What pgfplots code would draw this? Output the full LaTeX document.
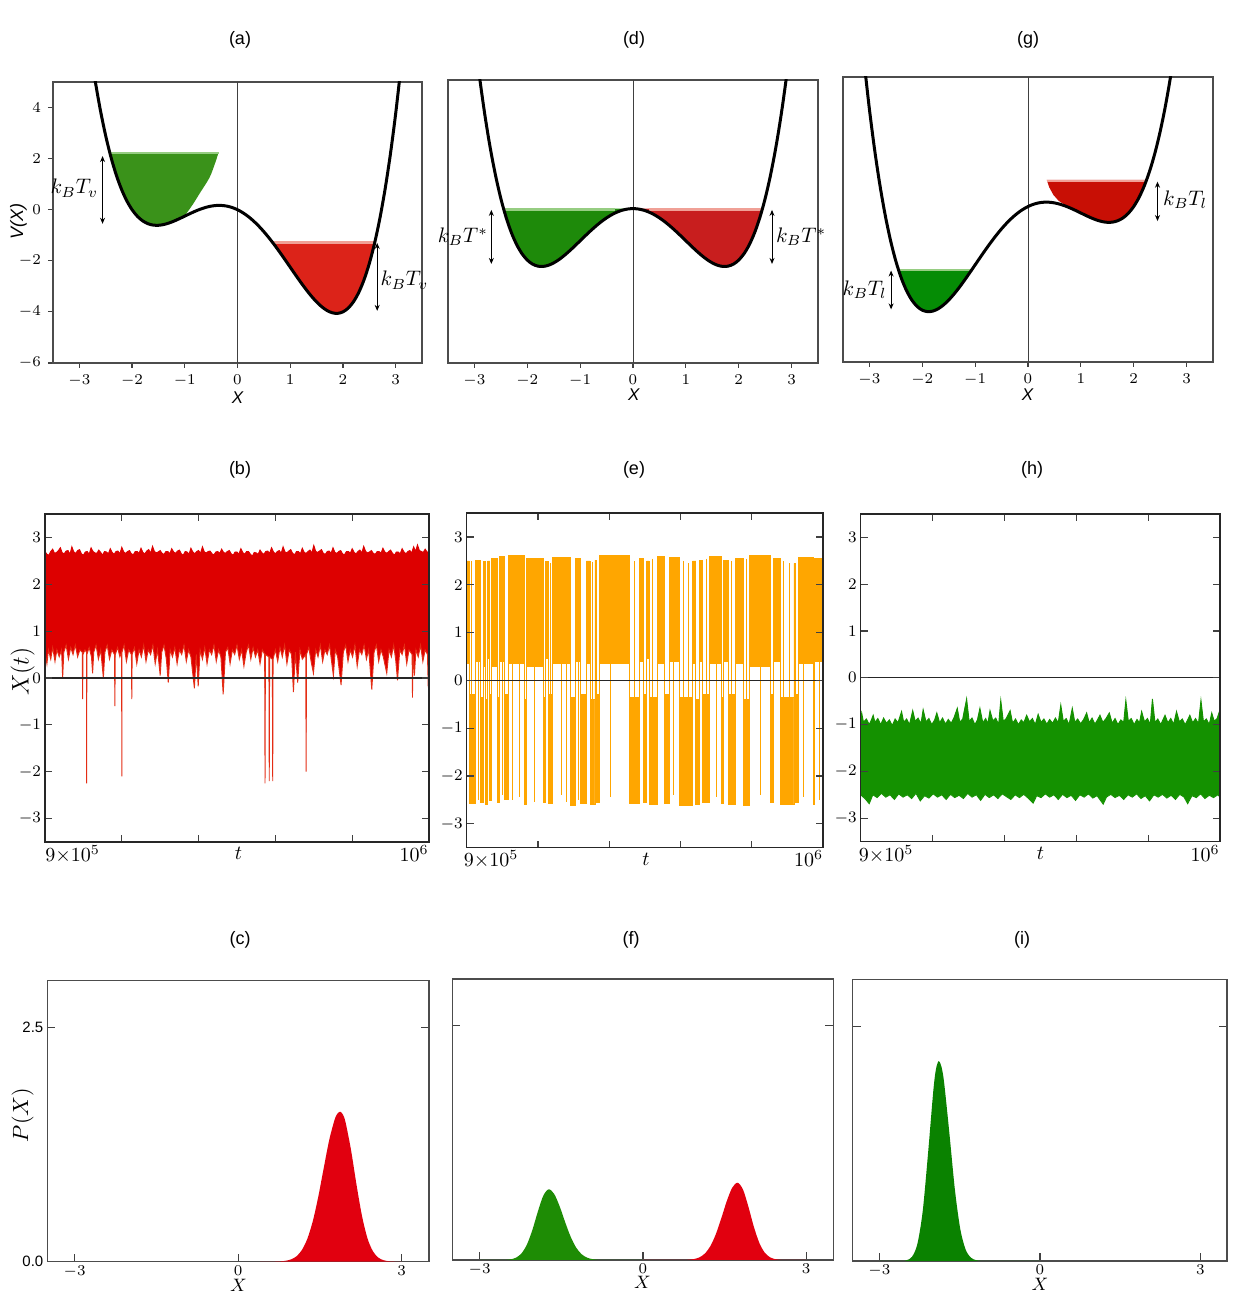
\documentclass[border=0pt]{standalone}
\usepackage{fix-cm}
\usepackage[no-math]{fontspec}
\setmainfont{Liberation Sans}
\usepackage{pgfplots}
\pgfplotsset{compat=1.18}
\usepackage{pgfplotstable}
\usetikzlibrary{arrows.meta}

\definecolor{gA}{RGB}{58,146,26}
\definecolor{gAl}{RGB}{150,205,130}
\definecolor{rA}{RGB}{220,35,25}
\definecolor{rAl}{RGB}{240,160,150}
\definecolor{gD}{RGB}{30,138,10}
\definecolor{rD}{RGB}{200,30,30}
\definecolor{gG}{RGB}{5,140,5}
\definecolor{rG}{RGB}{200,15,5}
\definecolor{bred}{RGB}{221,0,0}
\definecolor{bredl}{RGB}{228,45,20}
\definecolor{eor}{RGB}{255,166,0}
\definecolor{hgr}{RGB}{20,145,0}
\definecolor{pred}{RGB}{225,0,15}
\definecolor{pgrF}{RGB}{30,140,5}
\definecolor{pgrI}{RGB}{10,130,0}

\tikzset{
  arr/.style={{Stealth[length=3pt,width=2.5pt]}-{Stealth[length=3pt,width=2.5pt]}, line width=0.5pt, black},
  kb/.style={font=\fontsize{10.5}{11}\selectfont, inner sep=1pt},
}

\pgfplotsset{
  base/.style={scale only axis,
    axis line style={black!70, line width=0.8pt},
    tick style={black!75, line width=0.6pt}},
  toprow/.style={base, clip mode=individual, xmin=-3.5, xmax=3.5, ymin=-6, ymax=5,
    xtick={-3,...,3}, tick align=outside, xtick pos=left, ytick pos=left,
    major tick length=2.5pt,
    tick label style={font=\fontsize{7.5}{8}\selectfont}},
  midrow/.style={base, axis on top, xmin=0, xmax=100, ymin=-3.5, ymax=3.5,
    xtick={0,20,...,100}, xticklabels={}, ytick={-3,...,3},
    tick align=inside, xtick pos=both, ytick pos=both, yticklabel pos=left,
    major tick length=3.5pt,
    axis line style={black!85, line width=0.8pt},
    tick label style={font=\fontsize{8}{9}\selectfont},
    yticklabel style={xshift=1.5pt}},
  botrow/.style={base, xmin=-3.5, xmax=3.5, ymin=0, ymax=3,
    xtick={-3,0,3}, ytick={0,2.5}, tick align=inside,
    xtick pos=left, ytick pos=both, yticklabel pos=left,
    major tick length=4pt,
    tick label style={font=\fontsize{7.5}{8}\selectfont},
    xticklabel style={yshift=1.5pt}, yticklabel style={xshift=1.5pt}},
  curve/.style={black, line width=1.5pt, smooth},
  zline/.style={black!75, line width=0.5pt},
  edge/.style={line width=0.45pt, restrict y to domain=-3.2:3.2},
}

% potential V(X): Vd symmetric, Va tilted (a), Vg tilted (g)
\pgfplotstableread{
x Vd Va Vg
-3.1 8.673 11.773 5.573
-3.0 6.75 9.75 3.75
-2.9 5.067 7.967 2.167
-2.8 3.6064 6.4064 0.8064
-2.7 2.351 5.051 -0.349
-2.6 1.2844 3.8844 -1.3156
-2.5 0.3906 2.8906 -2.1094
-2.4 -0.3456 2.0544 -2.7456
-2.3 -0.939 1.361 -3.239
-2.2 -1.4036 0.7964 -3.6036
-2.1 -1.753 0.347 -3.853
-2.0 -2.0 0 -4.0
-1.9 -2.157 -0.257 -4.057
-1.8 -2.2356 -0.4356 -4.0356
-1.7 -2.247 -0.547 -3.947
-1.6 -2.2016 -0.6016 -3.8016
-1.5 -2.1094 -0.6094 -3.6094
-1.4 -1.9796 -0.5796 -3.3796
-1.3 -1.821 -0.521 -3.121
-1.2 -1.6416 -0.4416 -2.8416
-1.1 -1.449 -0.349 -2.549
-1.0 -1.25 -0.25 -2.25
-0.9 -1.051 -0.151 -1.951
-0.8 -0.8576 -0.0576 -1.6576
-0.7 -0.675 0.025 -1.375
-0.6 -0.5076 0.0924 -1.1076
-0.5 -0.3594 0.1406 -0.8594
-0.4 -0.2336 0.1664 -0.6336
-0.3 -0.133 0.167 -0.433
-0.2 -0.0596 0.1404 -0.2596
-0.1 -0.015 0.085 -0.115
0.0 0 0 0
0.1 -0.015 -0.115 0.085
0.2 -0.0596 -0.2596 0.1404
0.3 -0.133 -0.433 0.167
0.4 -0.2336 -0.6336 0.1664
0.5 -0.3594 -0.8594 0.1406
0.6 -0.5076 -1.1076 0.0924
0.7 -0.675 -1.375 0.025
0.8 -0.8576 -1.6576 -0.0576
0.9 -1.051 -1.951 -0.151
1.0 -1.25 -2.25 -0.25
1.1 -1.449 -2.549 -0.349
1.2 -1.6416 -2.8416 -0.4416
1.3 -1.821 -3.121 -0.521
1.4 -1.9796 -3.3796 -0.5796
1.5 -2.1094 -3.6094 -0.6094
1.6 -2.2016 -3.8016 -0.6016
1.7 -2.247 -3.947 -0.547
1.8 -2.2356 -4.0356 -0.4356
1.9 -2.157 -4.057 -0.257
2.0 -2.0 -4.0 0
2.1 -1.753 -3.853 0.347
2.2 -1.4036 -3.6036 0.7964
2.3 -0.939 -3.239 1.361
2.4 -0.3456 -2.7456 2.0544
2.5 0.3906 -2.1094 2.8906
2.6 1.2844 -1.3156 3.8844
2.7 2.351 -0.349 5.051
2.8 3.6064 0.8064 6.4064
2.9 5.067 2.167 7.967
3.0 6.75 3.75 9.75
3.1 8.673 5.573 11.773
}\pot

% (b) band edges, u = (t - 9e5)/1e3 ; first/last rows close the area at ymin
\pgfplotstableread[row sep=\\]{u y\\0 -3.5\\0 2.7\\0.5 2.64\\1 2.62\\1.5 2.7\\2 2.75\\2.5 2.66\\3 2.68\\3.5 2.72\\4 2.78\\4.5 2.67\\5 2.65\\5.5 2.71\\6 2.72\\6.5 2.64\\7 2.8\\7.5 2.69\\8 2.66\\8.5 2.72\\9 2.74\\9.5 2.65\\10 2.62\\10.5 2.69\\11 2.7\\11.5 2.64\\12 2.78\\12.5 2.7\\13 2.67\\13.5 2.66\\14 2.73\\14.5 2.68\\15 2.62\\15.5 2.7\\16 2.69\\16.5 2.65\\17 2.76\\17.5 2.68\\18 2.64\\18.5 2.7\\19 2.71\\19.5 2.65\\20 2.79\\20.5 2.69\\21 2.66\\21.5 2.7\\22 2.72\\22.5 2.65\\23 2.63\\23.5 2.7\\24 2.7\\24.5 2.66\\25 2.77\\25.5 2.68\\26 2.65\\26.5 2.71\\27 2.74\\27.5 2.66\\28 2.81\\28.5 2.7\\29 2.67\\29.5 2.69\\30 2.72\\30.5 2.66\\31 2.64\\31.5 2.7\\32 2.7\\32.5 2.65\\33 2.76\\33.5 2.69\\34 2.66\\34.5 2.71\\35 2.73\\35.5 2.65\\36 2.62\\36.5 2.7\\37 2.69\\37.5 2.64\\38 2.77\\38.5 2.69\\39 2.65\\39.5 2.7\\40 2.72\\40.5 2.66\\41 2.8\\41.5 2.69\\42 2.67\\42.5 2.7\\43 2.71\\43.5 2.65\\44 2.63\\44.5 2.69\\45 2.7\\45.5 2.66\\46 2.75\\46.5 2.68\\47 2.66\\47.5 2.7\\48 2.72\\48.5 2.65\\49 2.62\\49.5 2.69\\50 2.69\\50.5 2.64\\51 2.76\\51.5 2.68\\52 2.64\\52.5 2.7\\53 2.7\\53.5 2.64\\54 2.6\\54.5 2.68\\55 2.67\\55.5 2.64\\56 2.73\\56.5 2.67\\57 2.64\\57.5 2.7\\58 2.71\\58.5 2.66\\59 2.78\\59.5 2.69\\60 2.65\\60.5 2.7\\61 2.72\\61.5 2.66\\62 2.8\\62.5 2.69\\63 2.67\\63.5 2.71\\64 2.74\\64.5 2.66\\65 2.63\\65.5 2.7\\66 2.7\\66.5 2.65\\67 2.77\\67.5 2.68\\68 2.66\\68.5 2.7\\69 2.73\\69.5 2.67\\70 2.83\\70.5 2.7\\71 2.68\\71.5 2.71\\72 2.74\\72.5 2.66\\73 2.64\\73.5 2.7\\74 2.71\\74.5 2.66\\75 2.78\\75.5 2.68\\76 2.66\\76.5 2.7\\77 2.72\\77.5 2.65\\78 2.63\\78.5 2.7\\79 2.7\\79.5 2.66\\80 2.76\\80.5 2.68\\81 2.65\\81.5 2.7\\82 2.73\\82.5 2.67\\83 2.81\\83.5 2.7\\84 2.67\\84.5 2.69\\85 2.72\\85.5 2.66\\86 2.64\\86.5 2.7\\87 2.7\\87.5 2.66\\88 2.77\\88.5 2.69\\89 2.66\\89.5 2.7\\90 2.73\\90.5 2.66\\91 2.62\\91.5 2.69\\92 2.69\\92.5 2.65\\93 2.76\\93.5 2.69\\94 2.65\\94.5 2.7\\95 2.72\\95.5 2.67\\96 2.8\\96.5 2.7\\97 2.84\\97.5 2.72\\98 2.7\\98.5 2.68\\99 2.75\\99.5 2.69\\100 2.68\\100 -3.5\\}\btop

\pgfplotstableread[row sep=\\]{u y\\0 -3.5\\0 0.55\\0.5 0.3\\0.9 0.6\\1.5 0.4\\2.0 0.65\\2.6 0.35\\3.1 0.6\\3.7 0.45\\4.3 0.6\\4.6 0.0\\4.9 0.55\\5.5 0.7\\6.1 0.4\\6.7 0.65\\7.3 0.5\\7.9 0.7\\8.5 0.45\\9.1 0.6\\9.7 0.55\\9.8 -0.45\\9.9 0.5\\10.4 0.6\\10.8 0.55\\10.85 -2.25\\10.9 0.5\\11.5 0.65\\12.1 0.45\\12.4 0.1\\12.7 0.55\\13.3 0.7\\13.9 0.4\\14.5 0.6\\15.2 0.0\\15.6 0.55\\16.2 0.7\\16.8 0.4\\17.4 0.6\\18.1 0.5\\18.2 -0.6\\18.3 0.5\\18.9 0.65\\19.5 0.45\\19.95 0.55\\20.0 -2.1\\20.05 0.55\\20.6 0.7\\21.2 0.35\\21.8 0.6\\22.5 0.5\\22.6 -0.45\\22.7 0.5\\23.3 0.65\\23.9 0.3\\24.5 0.6\\25.1 0.45\\25.7 0.7\\26.3 0.35\\26.9 0.6\\27.5 0.5\\28.1 0.7\\28.7 0.3\\29.3 0.6\\30.0 0.05\\30.4 0.55\\31.0 0.7\\31.6 0.4\\32.1 -0.1\\32.6 0.6\\33.2 0.45\\33.8 0.65\\34.4 0.3\\35.0 0.6\\35.6 0.5\\36.2 0.7\\36.8 0.35\\37.4 0.6\\38.0 0.45\\38.9 -0.22\\39.4 0.5\\39.9 -0.18\\40.4 0.6\\41.0 0.4\\41.6 0.65\\42.2 0.3\\42.8 0.6\\43.4 0.5\\44.0 0.7\\44.6 0.35\\45.2 0.6\\45.8 0.45\\46.4 -0.35\\47.0 0.55\\47.6 0.65\\48.2 0.3\\48.8 0.6\\49.4 0.5\\50.0 0.7\\50.6 0.4\\51.2 0.6\\51.8 0.25\\52.4 0.55\\53.0 0.7\\53.6 0.4\\54.2 0.65\\54.8 0.45\\55.4 0.6\\56.0 0.3\\56.6 0.6\\57.2 0.5\\57.3 -2.25\\57.4 0.5\\58.3 0.45\\58.4 -2.2\\58.5 0.45\\59.2 0.4\\59.3 -2.2\\59.4 0.4\\60.0 0.6\\60.6 0.35\\61.2 0.65\\61.8 0.45\\62.4 0.7\\63.0 0.3\\63.6 0.6\\64.2 0.5\\64.7 -0.3\\65.2 0.55\\65.8 -0.1\\66.4 0.6\\67.0 0.4\\67.9 0.5\\68.0 -2.0\\68.1 0.5\\68.7 0.65\\69.3 0.35\\69.9 0.1\\70.5 0.6\\71.1 0.45\\71.7 0.7\\72.3 0.35\\72.9 0.6\\73.5 0.5\\74.1 0.7\\74.7 0.3\\75.1 0.05\\75.6 0.6\\76.2 0.45\\77.1 -0.15\\77.7 0.55\\78.3 0.7\\78.9 0.35\\79.5 0.6\\80.1 0.45\\80.7 0.7\\81.3 0.25\\81.9 0.6\\82.5 0.5\\83.1 0.7\\83.7 0.4\\84.3 0.6\\85.1 -0.25\\85.7 0.55\\86.3 0.7\\86.9 0.35\\87.5 0.6\\88.1 0.45\\89.0 0.1\\89.6 0.6\\90.2 0.45\\90.8 0.7\\91.3 0.4\\91.8 -0.05\\92.4 0.6\\93.0 0.5\\93.6 0.7\\94.2 0.3\\94.8 0.6\\95.6 0.5\\95.7 -0.42\\95.8 0.5\\96.2 0.05\\96.6 0.6\\97.2 0.45\\97.8 0.7\\98.4 0.35\\99.0 0.6\\99.6 0.5\\99.8 -0.2\\100 0.5\\100 -3.5\\}\bbot

% (e) residence blocks: start u, upper and lower bound of the band
\pgfplotstableread{
u hi lo
0 -3.5 -3.5
0 2.5 0.35
0.8 -0.3 -2.58
2.6 2.52 0.4
3.9 -0.35 -2.55
4.7 2.48 0.3
5.4 -0.4 -2.6
5.9 2.5 0.45
6.5 -0.3 -2.52
7.0 2.55 0.3
8.6 -0.35 -2.56
9.3 2.6 0.4
10.7 -0.3 -2.5
11.7 2.62 0.35
16.1 -0.4 -2.6
16.8 2.55 0.3
21.5 -0.35 -2.55
22.0 2.48 0.45
22.9 -0.3 -2.58
24.1 2.58 0.35
29.2 -0.35 -2.62
30.6 2.55 0.4
32.0 -0.3 -2.57
33.6 2.5 0.35
34.6 -0.4 -2.6
36.0 2.52 0.4
36.4 -0.3 -2.55
37.2 2.62 0.35
45.8 -0.35 -2.58
48.6 2.55 0.4
49.6 -0.3 -2.55
50.5 2.5 0.45
51.2 -0.35 -2.6
53.4 2.6 0.35
55.6 -0.3 -2.58
56.8 2.58 0.4
59.6 -0.35 -2.62
63.4 2.5 0.35
64.3 -0.4 -2.6
65.2 2.52 0.4
66.2 -0.3 -2.55
68.2 2.6 0.35
71.5 -0.35 -2.58
72.1 2.52 0.4
73.3 -0.3 -2.6
75.5 2.55 0.35
77.7 -0.4 -2.62
79.4 2.62 0.3
85.2 -0.3 -2.55
86.0 2.55 0.4
88.0 -0.35 -2.6
91.8 2.45 0.45
92.1 -0.3 -2.55
93.0 2.58 0.35
97.2 -0.35 -2.6
97.6 2.55 0.4
100 2.55 0.4
100 -3.5 -3.5
}\eblk

% (e) brief excursions to the other well (full-height lines)
\pgfplotstableread[row sep=\\]{u y\\1.5 2.5\\1.5 -2.45\\1.5 nan\\3.3 2.5\\3.3 -2.5\\3.3 nan\\10.2 2.55\\10.2 -2.4\\10.2 nan\\13.0 2.6\\13.0 -2.5\\13.0 nan\\14.9 2.55\\14.9 -2.45\\14.9 nan\\19.0 2.5\\19.0 -2.55\\19.0 nan\\23.5 2.45\\23.5 -2.5\\23.5 nan\\26.7 2.55\\26.7 -2.4\\26.7 nan\\28.1 2.5\\28.1 -2.55\\28.1 nan\\31.3 2.5\\31.3 -2.5\\31.3 nan\\35.2 2.48\\35.2 -2.6\\35.2 nan\\40.3 2.6\\40.3 -2.45\\40.3 nan\\47.0 2.5\\47.0 -2.55\\47.0 nan\\52.2 2.55\\52.2 -2.5\\52.2 nan\\57.9 2.55\\57.9 -2.4\\57.9 nan\\60.8 2.5\\60.8 -2.6\\60.8 nan\\62.2 2.45\\62.2 -2.55\\62.2 nan\\67.2 2.55\\67.2 -2.5\\67.2 nan\\70.1 2.6\\70.1 -2.45\\70.1 nan\\74.3 2.5\\74.3 -2.55\\74.3 nan\\78.5 2.55\\78.5 -2.6\\78.5 nan\\82.3 2.6\\82.3 -2.4\\82.3 nan\\89.0 2.5\\89.0 -2.55\\89.0 nan\\90.5 2.45\\90.5 -2.5\\90.5 nan\\94.6 2.55\\94.6 -2.45\\94.6 nan\\98.9 2.5\\98.9 -2.5\\}\eexc

% (h) band edges
\pgfplotstableread[row sep=\\]{u y\\0 -3.5\\0 -0.9\\0.3 -0.75\\0.8 -0.95\\1.6 -0.88\\2.4 -1.0\\3.0 -0.9\\3.5 -0.8\\4.0 -0.95\\4.8 -0.87\\5.6 -1.0\\6.4 -0.86\\7.2 -0.97\\8.0 -0.9\\8.8 -1.02\\9.6 -0.88\\10.4 -0.96\\11.4 -0.72\\12.0 -0.95\\12.8 -0.88\\13.6 -1.0\\14.5 -0.7\\15.2 -0.93\\16.0 -0.86\\16.8 -0.98\\17.4 -0.68\\18.2 -0.94\\19.0 -0.87\\19.8 -1.0\\20.6 -0.9\\21.2 -0.75\\22.0 -0.96\\22.8 -0.86\\23.6 -0.99\\24.4 -0.89\\25.2 -0.97\\26.0 -0.85\\26.9 -0.65\\27.6 -0.95\\28.4 -0.88\\29.5 -0.45\\30.2 -0.93\\31.0 -0.86\\31.8 -1.0\\32.5 -0.9\\33.2 -0.65\\34.0 -0.96\\34.8 -0.87\\35.4 -0.98\\36.0 -0.7\\36.8 -0.92\\37.6 -0.86\\38.4 -1.0\\39.0 -0.48\\39.7 -0.93\\40.5 -0.87\\41.6 -0.7\\42.3 -0.97\\43.1 -0.88\\43.9 -1.0\\44.7 -0.9\\45.4 -0.96\\46.2 -0.8\\47.0 -0.94\\47.8 -0.87\\48.6 -1.0\\49.4 -0.78\\50.2 -0.95\\51.0 -0.88\\51.8 -0.99\\52.6 -0.89\\53.4 -0.97\\54.2 -0.86\\55.0 -0.96\\55.7 -0.58\\56.4 -0.93\\57.2 -0.87\\58.0 -1.0\\58.9 -0.65\\59.6 -0.95\\60.4 -0.88\\61.2 -0.98\\62.0 -0.9\\62.9 -0.75\\63.6 -0.96\\64.4 -0.86\\65.2 -0.99\\65.9 -0.9\\66.6 -0.8\\67.4 -0.95\\68.2 -0.88\\69.2 -0.75\\70.0 -0.97\\70.8 -0.87\\71.6 -1.0\\72.4 -0.9\\73.2 -0.95\\73.8 -0.48\\74.5 -0.93\\75.3 -0.87\\76.1 -1.0\\76.9 -0.89\\77.6 -0.96\\78.2 -0.72\\79.0 -0.94\\79.8 -0.87\\80.6 -0.99\\81.2 -0.45\\81.9 -0.95\\82.7 -0.88\\83.5 -1.0\\84.1 -0.9\\84.7 -0.8\\85.5 -0.96\\86.3 -0.87\\87.1 -0.99\\87.9 -0.72\\88.7 -0.94\\89.5 -0.88\\90.3 -1.0\\91.0 -0.9\\91.6 -0.8\\92.4 -0.96\\93.2 -0.87\\94.0 -0.98\\94.7 -0.48\\95.4 -0.94\\96.2 -0.88\\97.0 -1.0\\97.7 -0.75\\98.4 -0.93\\99.2 -0.87\\100 -0.68\\100 -3.5\\}\htop

\pgfplotstableread[row sep=\\]{u y\\0 -3.5\\0 -2.5\\1.2 -2.58\\2.4 -2.69\\3.4 -2.5\\4.6 -2.56\\5.8 -2.47\\7.0 -2.55\\8.2 -2.5\\9.4 -2.6\\10.6 -2.48\\11.8 -2.55\\13.0 -2.5\\14.2 -2.58\\15.4 -2.47\\16.6 -2.63\\17.8 -2.52\\19.0 -2.57\\20.2 -2.48\\21.4 -2.55\\22.6 -2.5\\23.8 -2.6\\25.0 -2.49\\26.2 -2.56\\27.4 -2.51\\28.6 -2.58\\29.8 -2.47\\31.0 -2.55\\32.2 -2.5\\33.4 -2.62\\34.6 -2.49\\35.8 -2.56\\37.0 -2.5\\38.2 -2.58\\39.4 -2.48\\40.6 -2.54\\41.8 -2.6\\43.0 -2.5\\44.2 -2.56\\45.4 -2.49\\46.6 -2.57\\48.0 -2.68\\49.0 -2.52\\50.2 -2.56\\51.4 -2.48\\52.6 -2.55\\53.8 -2.5\\55.0 -2.6\\56.2 -2.49\\57.4 -2.56\\58.6 -2.51\\59.8 -2.62\\61.0 -2.5\\62.2 -2.55\\63.4 -2.48\\64.6 -2.57\\65.8 -2.52\\67.5 -2.7\\68.4 -2.55\\69.6 -2.49\\70.8 -2.56\\72.0 -2.51\\73.2 -2.6\\74.4 -2.5\\75.6 -2.55\\76.8 -2.48\\78.0 -2.58\\79.2 -2.52\\80.4 -2.63\\81.6 -2.5\\82.8 -2.55\\84.0 -2.49\\85.2 -2.57\\86.4 -2.51\\87.6 -2.6\\88.8 -2.49\\90.0 -2.55\\91.0 -2.69\\92.2 -2.52\\93.4 -2.56\\94.6 -2.48\\95.8 -2.58\\97.0 -2.51\\98.2 -2.56\\99.4 -2.5\\100 -2.55\\100 -3.5\\}\hbot

\begin{document}
\begin{tikzpicture}
\path[use as bounding box] (0,0) rectangle (618pt,651pt);

% ---------------- (a)
\begin{axis}[toprow, at={(26.5pt,469.5pt)}, anchor=south west,
  width=184.5pt, height=140.5pt, ytick={-6,-4,...,4}]
\addplot[fill=gA, draw=none, smooth] coordinates {(-2.42,2.24)(-2.4,2.0544)(-2.3,1.361)(-2.2,0.7964)(-2.1,0.347)(-2.0,0)(-1.9,-0.257)(-1.8,-0.4356)(-1.7,-0.547)(-1.6,-0.6016)(-1.5,-0.6094)(-1.4,-0.5796)(-1.3,-0.521)(-1.2,-0.4416)(-1.1,-0.349)(-1.0,-0.22)(-0.85,0.2)(-0.72,0.63)(-0.53,1.26)(-0.42,1.85)(-0.36,2.24)};
\addplot[fill=rA, draw=none] coordinates {(0.657,-1.26)(0.7,-1.375)(0.8,-1.6576)(0.9,-1.951)(1.0,-2.25)(1.1,-2.549)(1.2,-2.8416)(1.3,-3.121)(1.4,-3.3796)(1.5,-3.6094)(1.6,-3.8016)(1.7,-3.947)(1.8,-4.0356)(1.9,-4.057)(2.0,-4.0)(2.1,-3.853)(2.2,-3.6036)(2.3,-3.239)(2.4,-2.7456)(2.5,-2.1094)(2.6,-1.3156)(2.606,-1.26)};
\addplot[gAl, line width=1.2pt] coordinates {(-2.42,2.21)(-0.36,2.21)};
\addplot[rAl, line width=1.2pt] coordinates {(0.66,-1.29)(2.60,-1.29)};
\addplot[zline] coordinates {(0,-6)(0,5)};
\addplot[curve] table[x=x, y=Va] {\pot};
\draw[arr] (axis cs:-2.56,2.1) -- (axis cs:-2.56,-0.55);
\draw[arr] (axis cs:2.65,-1.3) -- (axis cs:2.65,-3.96);
\node[kb, anchor=east] at (axis cs:-2.6,0.84) {$k_BT_v$};
\node[kb, anchor=west] at (axis cs:2.67,-2.76) {$k_BT_v$};
\end{axis}

% ---------------- (d)
\begin{axis}[toprow, at={(224pt,469.5pt)}, anchor=south west,
  width=185pt, height=141.5pt, ytick=\empty]
\addplot[fill=gD, draw=none] coordinates {(-2.449,0)(-2.4,-0.3456)(-2.3,-0.939)(-2.2,-1.4036)(-2.1,-1.753)(-2.0,-2.0)(-1.9,-2.157)(-1.8,-2.2356)(-1.7,-2.247)(-1.6,-2.2016)(-1.5,-2.1094)(-1.4,-1.9796)(-1.3,-1.821)(-1.2,-1.6416)(-1.1,-1.449)(-1.0,-1.25)(-0.9,-1.051)(-0.8,-0.8576)(-0.7,-0.675)(-0.6,-0.5076)(-0.5,-0.3594)(-0.4,-0.2336)(-0.3,-0.133)(-0.2,-0.0596)(-0.1,-0.015)(0,0)};
\addplot[fill=rD, draw=none] coordinates {(0,0)(0.1,-0.015)(0.2,-0.0596)(0.3,-0.133)(0.4,-0.2336)(0.5,-0.3594)(0.6,-0.5076)(0.7,-0.675)(0.8,-0.8576)(0.9,-1.051)(1.0,-1.25)(1.1,-1.449)(1.2,-1.6416)(1.3,-1.821)(1.4,-1.9796)(1.5,-2.1094)(1.6,-2.2016)(1.7,-2.247)(1.8,-2.2356)(1.9,-2.157)(2.0,-2.0)(2.1,-1.753)(2.2,-1.4036)(2.3,-0.939)(2.4,-0.3456)(2.449,0)};
\addplot[gAl, line width=1.2pt] coordinates {(-2.44,-0.04)(-0.35,-0.04)};
\addplot[rAl, line width=1.2pt] coordinates {(0.3,-0.04)(2.44,-0.04)};
\addplot[zline] coordinates {(0,-6)(0,5)};
\addplot[curve] table[x=x, y=Vd] {\pot};
\draw[arr] (axis cs:-2.68,-0.05) -- (axis cs:-2.68,-2.15);
\draw[arr] (axis cs:2.63,-0.05) -- (axis cs:2.63,-2.15);
\node[kb, anchor=east] at (axis cs:-2.70,-1.1) {$k_BT^{*}$};
\node[kb, anchor=west] at (axis cs:2.66,-1.1) {$k_BT^{*}$};
\end{axis}

% ---------------- (g)
\begin{axis}[toprow, at={(421.5pt,470pt)}, anchor=south west,
  width=185pt, height=142.5pt, ytick=\empty]
\addplot[fill=gG, draw=none] coordinates {(-2.451,-2.42)(-2.4,-2.7456)(-2.3,-3.239)(-2.2,-3.6036)(-2.1,-3.853)(-2.0,-4.0)(-1.9,-4.057)(-1.8,-4.0356)(-1.7,-3.947)(-1.6,-3.8016)(-1.5,-3.6094)(-1.4,-3.3796)(-1.3,-3.121)(-1.2,-2.8416)(-1.1,-2.549)(-1.057,-2.42)};
\addplot[fill=rG, draw=none] coordinates {(0.354,1.03)(0.4,0.75)(0.48,0.45)(0.58,0.22)(0.7,0.06)(0.75,0.0)(0.8,-0.0576)(0.9,-0.151)(1.0,-0.25)(1.1,-0.349)(1.2,-0.4416)(1.3,-0.521)(1.4,-0.5796)(1.5,-0.6094)(1.6,-0.6016)(1.7,-0.547)(1.8,-0.4356)(1.9,-0.257)(2.0,0)(2.1,0.347)(2.2,0.7964)(2.241,1.03)};
\addplot[gAl, line width=1.2pt] coordinates {(-2.44,-2.45)(-1.07,-2.45)};
\addplot[rAl, line width=1.0pt] coordinates {(0.36,1.0)(2.23,1.0)};
\addplot[zline] coordinates {(0,-6)(0,5)};
\addplot[curve] table[x=x, y=Vg] {\pot};
\draw[arr] (axis cs:-2.59,-2.47) -- (axis cs:-2.59,-3.97);
\draw[arr] (axis cs:2.45,0.96) -- (axis cs:2.45,-0.56);
\node[kb, anchor=east] at (axis cs:-2.63,-3.22) {$k_BT_l$};
\node[kb, anchor=west] at (axis cs:2.51,0.25) {$k_BT_l$};
\end{axis}

% ---------------- (b)
\begin{axis}[midrow, at={(22.5pt,230pt)}, anchor=south west,
  width=192pt, height=164pt]
\addplot[fill=bred, draw=none] table[x=u, y=y] {\btop};
\addplot[fill=white, draw=none] table[x=u, y=y] {\bbot};
\addplot[bredl, edge] table[x=u, y=y] {\bbot};
\addplot[bred, edge] table[x=u, y=y] {\btop};
\addplot[black!85, line width=0.6pt] coordinates {(0,0)(100,0)};
\end{axis}

% ---------------- (e)
\begin{axis}[midrow, at={(233.3pt,227.2pt)}, anchor=south west,
  width=178.3pt, height=167.2pt]
\addplot[const plot, fill=eor, draw=none] table[x=u, y=hi] {\eblk};
\addplot[const plot, fill=white, draw=none] table[x=u, y=lo] {\eblk};
\addplot[const plot, eor, edge] table[x=u, y=hi] {\eblk};
\addplot[const plot, eor, edge] table[x=u, y=lo] {\eblk};
\addplot[eor, line width=0.5pt, unbounded coords=jump] table[x=u, y=y] {\eexc};
\addplot[black!85, line width=0.6pt] coordinates {(0,0)(100,0)};
\end{axis}

% ---------------- (h)
\begin{axis}[midrow, at={(430.3pt,230.2pt)}, anchor=south west,
  width=179.7pt, height=163.8pt]
\addplot[fill=hgr, draw=none] table[x=u, y=y] {\htop};
\addplot[fill=white, draw=none] table[x=u, y=y] {\hbot};
\addplot[hgr, edge] table[x=u, y=y] {\htop};
\addplot[hgr, edge] table[x=u, y=y] {\hbot};
\addplot[black!85, line width=0.6pt] coordinates {(0,0)(100,0)};
\end{axis}

% ---------------- (c)
\begin{axis}[botrow, at={(23.7pt,20.2pt)}, anchor=south west,
  width=190.8pt, height=140.5pt, yticklabels={0.0,2.5}]
\addplot[fill=pred, draw=none, smooth] coordinates {(0.4,0)(0.67,0.0009)(0.77,0.0029)(0.87,0.0088)(0.97,0.0237)(1.07,0.0573)(1.17,0.125)(1.27,0.246)(1.37,0.435)(1.47,0.696)(1.57,1.002)(1.67,1.299)(1.77,1.518)(1.82,1.579)(1.87,1.6)(1.92,1.571)(1.97,1.486)(2.07,1.19)(2.17,0.822)(2.27,0.49)(2.37,0.251)(2.47,0.1115)(2.57,0.0427)(2.67,0.0141)(2.77,0.004)(2.87,0.001)(3.0,0)} \closedcycle;
\end{axis}

% ---------------- (f)
\begin{axis}[botrow, at={(226.2pt,21pt)}, anchor=south west,
  width=190.5pt, height=140.5pt, yticklabels={}]
\addplot[fill=pgrF, draw=none, smooth] coordinates {(-3.0,0)(-2.63,0.0004)(-2.53,0.0018)(-2.43,0.0073)(-2.33,0.0251)(-2.23,0.071)(-2.13,0.166)(-2.03,0.322)(-1.93,0.517)(-1.83,0.687)(-1.73,0.755)(-1.63,0.705)(-1.53,0.574)(-1.43,0.407)(-1.33,0.252)(-1.23,0.136)(-1.13,0.064)(-1.03,0.0262)(-0.93,0.0094)(-0.83,0.0029)(-0.73,0.0008)(0,0)} \closedcycle;
\addplot[fill=pred, draw=none, smooth] coordinates {(0,0)(0.64,0.0002)(0.74,0.0008)(0.84,0.0032)(0.94,0.0102)(1.04,0.0286)(1.14,0.0699)(1.24,0.1485)(1.34,0.2756)(1.44,0.4447)(1.54,0.627)(1.64,0.7706)(1.74,0.825)(1.84,0.751)(1.94,0.565)(2.04,0.352)(2.14,0.1815)(2.24,0.0776)(2.34,0.0275)(2.44,0.008)(2.54,0.002)(2.64,0.0004)(3.0,0)} \closedcycle;
\end{axis}

% ---------------- (i)
\begin{axis}[botrow, at={(426.3pt,20.5pt)}, anchor=south west,
  width=187.3pt, height=140.8pt, yticklabels={}]
\addplot[fill=pgrI, draw=none, smooth] coordinates {(-3.0,0)(-2.59,0.001)(-2.49,0.0083)(-2.39,0.0449)(-2.29,0.18)(-2.19,0.53)(-2.09,1.148)(-1.99,1.825)(-1.94,2.05)(-1.89,2.13)(-1.84,2.07)(-1.79,1.902)(-1.69,1.353)(-1.59,0.768)(-1.49,0.347)(-1.39,0.125)(-1.29,0.036)(-1.19,0.0083)(-1.09,0.0015)(-0.99,0.0002)(0,0)} \closedcycle;
\end{axis}

% ---------------- titles and outer labels
\begin{scope}[font=\fontsize{9}{10}\selectfont]
\node at (120pt,631pt) {(a)};
\node at (317pt,631pt) {(d)};
\node at (514pt,631pt) {(g)};
\node at (120pt,416pt) {(b)};
\node at (317pt,416pt) {(e)};
\node at (516pt,416pt) {(h)};
\node at (120pt,181pt) {(c)};
\node at (315.5pt,181pt) {(f)};
\node at (511pt,181pt) {(i)};
\end{scope}
\node[rotate=90, font=\fontsize{9}{10}\selectfont\itshape] at (9.25pt,540pt) {V(X)};
\node[font=\fontsize{8.5}{10}\selectfont\itshape] at (118.75pt,452.25pt) {X};
\node[font=\fontsize{8.5}{10}\selectfont\itshape] at (316.9pt,453.5pt) {X};
\node[font=\fontsize{8.5}{10}\selectfont\itshape] at (513.8pt,453.5pt) {X};

\node[rotate=90, font=\fontsize{12}{13}\selectfont] at (11.25pt,315.2pt) {$X(t)$};
\begin{scope}[font=\fontsize{10}{11}\selectfont, inner sep=0pt]
\node[anchor=base west] at (22.5pt,220.2pt) {$9{\times}10^5$};
\node[anchor=base east] at (214.5pt,220.2pt) {$10^6$};
\node[anchor=base] at (119.2pt,221pt) {$t$};
\node[anchor=base west] at (231.7pt,217.7pt) {$9{\times}10^5$};
\node[anchor=base east] at (411.7pt,217.7pt) {$10^6$};
\node[anchor=base] at (323pt,218pt) {$t$};
\node[anchor=base west] at (429.2pt,220.2pt) {$9{\times}10^5$};
\node[anchor=base east] at (610pt,220.2pt) {$10^6$};
\node[anchor=base] at (520.3pt,221pt) {$t$};
\end{scope}

\node[rotate=90, font=\fontsize{11}{12}\selectfont] at (11.25pt,93.5pt) {$P(X)$};
\node[font=\fontsize{9}{10}\selectfont] at (119.2pt,8.5pt) {$X$};
\node[font=\fontsize{9}{10}\selectfont] at (321.25pt,9.75pt) {$X$};
\node[font=\fontsize{9}{10}\selectfont] at (520pt,9pt) {$X$};
\end{tikzpicture}
\end{document}
